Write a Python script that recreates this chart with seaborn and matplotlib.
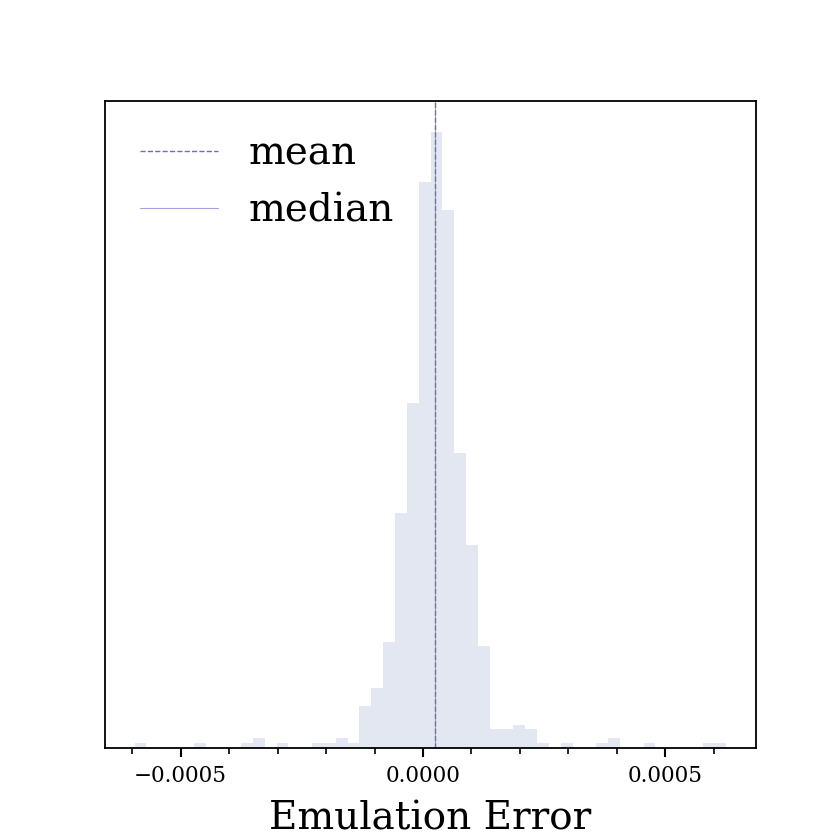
import matplotlib
matplotlib.use("Agg")
import matplotlib.pyplot as plt
from matplotlib.ticker import MultipleLocator
import seaborn as sns
import numpy as np
import pandas as pd

# Histogram data (50 equal bins between the smallest and largest error)

err_min = -0.000595
err_max = 0.000626

counts = [
    1, 0, 0, 0, 0, 1, 0, 0, 0, 1,
    2, 0, 1, 0, 0, 1, 1, 2, 1, 9,
    13, 23, 51, 75, 123, 134, 117, 64, 44, 22,
    4, 4, 5, 4, 1, 0, 1, 0, 0, 1,
    2, 0, 0, 1, 0, 0, 0, 0, 1, 1
]

err_mean = 0.0000250
err_median = 0.0000245

# Style

sns.set_style("white")
plt.rcParams['font.family'] = ['DejaVu Serif']
plt.rcParams['text.color'] = 'black'
plt.rcParams['axes.labelcolor'] = 'black'
plt.rcParams['xtick.color'] = 'black'

edges = np.linspace(err_min, err_max, len(counts) + 1)
centers = (edges[:-1] + edges[1:]) / 2

df = pd.DataFrame({
    'error': centers,
    'count': counts
})

fig, ax = plt.subplots(figsize=(8.4, 8.4), dpi=100)

sns.histplot(
    data=df,
    x='error',
    weights='count',
    bins=list(edges),
    color='#e3e7f2',
    alpha=1.0,
    edgecolor=None,
    linewidth=0,
    ax=ax
)

ax.axvline(
    err_median,
    color='#a99fe0',
    linewidth=0.8,
    label='median'
)

ax.axvline(
    err_mean,
    color='#6f6fb5',
    linewidth=1.0,
    linestyle='--',
    label='mean'
)

# Legend with mean first

handles, labels = ax.get_legend_handles_labels()
ax.legend(
    handles[::-1],
    labels[::-1],
    loc='upper left',
    frameon=False,
    fontsize=28,
    handlelength=2.0,
    handletextpad=0.8,
    labelspacing=0.5
)

ax.set_xlabel("Emulation Error", fontsize=28, color='black', labelpad=10)
ax.set_ylabel("")
ax.set_yticks([])

ax.xaxis.set_major_locator(MultipleLocator(0.0005))
ax.xaxis.set_minor_locator(MultipleLocator(0.0001))
ax.tick_params(axis='x', which='major', direction='out', length=6.5,
               width=1.5, labelsize=15.5, pad=6, bottom=True, colors='black')
ax.tick_params(axis='x', which='minor', direction='out', length=4,
               width=1.2, bottom=True, colors='black')

for spine in ax.spines.values():
    spine.set_visible(True)
    spine.set_color('black')
    spine.set_linewidth(1.3)

plt.savefig("out.png", dpi=100)
